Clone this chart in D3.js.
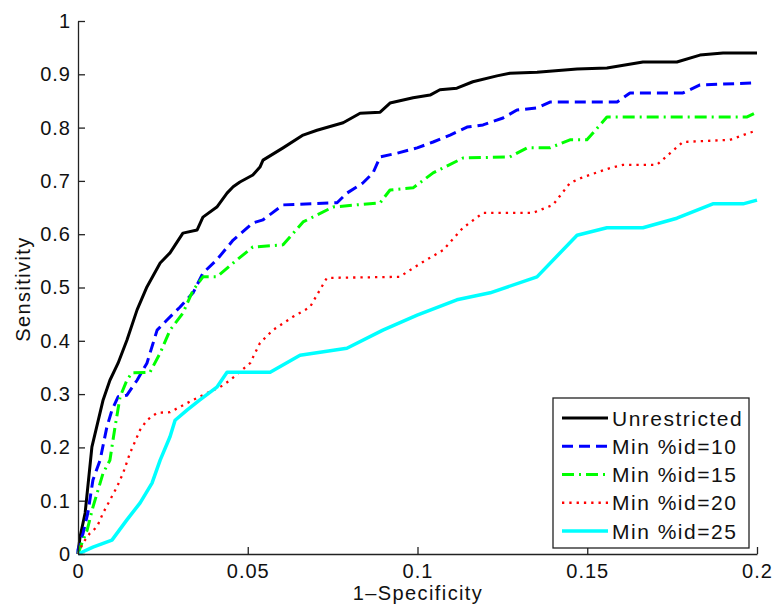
<!DOCTYPE html>
<html>
<head>
<meta charset="utf-8">
<script src="https://cdn.jsdelivr.net/npm/d3@7"></script>
<style>
  html, body { margin: 0; padding: 0; background: #fff; }
  svg { display: block; }
  text { font-family: "Liberation Sans", Arial, Helvetica, sans-serif; fill: #111; }
</style>
</head>
<body>
<svg id="chart" width="775" height="612"></svg>
<script>
// ---------- data (x = 1-Specificity, y = Sensitivity) ----------
const seriesNames = ["Unrestricted", "Min %id=10", "Min %id=15", "Min %id=20", "Min %id=25"];

const unrestricted = [
  [0,0],[0.0006,0.032],[0.0021,0.077],[0.0041,0.201],[0.0074,0.289],[0.0094,0.326],
  [0.0118,0.358],[0.0144,0.401],[0.0174,0.458],[0.0203,0.501],[0.0242,0.546],[0.0271,0.565],
  [0.0309,0.602],[0.0351,0.608],[0.0368,0.632],[0.0409,0.651],[0.0439,0.677],[0.0457,0.689],
  [0.0477,0.698],[0.0515,0.711],[0.0536,0.726],[0.0545,0.739],[0.0604,0.762],[0.0663,0.786],
  [0.0704,0.795],[0.0781,0.809],[0.0831,0.827],[0.0890,0.829],[0.0919,0.846],[0.0987,0.856],
  [0.1037,0.861],[0.1066,0.871],[0.1116,0.874],[0.1163,0.886],[0.1234,0.897],[0.1272,0.902],
  [0.1352,0.904],[0.1470,0.910],[0.1558,0.912],[0.1664,0.923],[0.1764,0.923],[0.1832,0.936],
  [0.1900,0.940],[0.2,0.940]
];

const minId10 = [
  [0,0],[0,0.008],[0.0015,0.039],[0.0029,0.077],[0.0044,0.139],[0.0065,0.176],[0.0085,0.238],
  [0.0100,0.270],[0.0118,0.295],[0.0144,0.298],[0.0174,0.326],[0.0203,0.358],[0.0233,0.420],
  [0.0262,0.439],[0.0300,0.463],[0.0339,0.490],[0.0368,0.527],[0.0409,0.552],[0.0457,0.589],
  [0.0515,0.621],[0.0545,0.627],[0.0604,0.655],[0.0763,0.659],[0.0792,0.677],[0.0839,0.696],
  [0.0869,0.715],[0.0890,0.745],[0.0940,0.752],[0.0999,0.762],[0.1046,0.773],[0.1096,0.786],
  [0.1146,0.801],[0.1193,0.805],[0.1252,0.818],[0.1293,0.833],[0.1352,0.837],[0.1390,0.848],
  [0.1588,0.848],[0.1626,0.865],[0.1782,0.865],[0.1832,0.880],[0.2,0.884]
];

const minId15 = [
  [0,0],[0.0012,0.021],[0.0027,0.045],[0.0044,0.088],[0.0059,0.120],[0.0074,0.152],
  [0.0094,0.176],[0.0100,0.201],[0.0109,0.238],[0.0124,0.295],[0.0144,0.326],[0.0159,0.340],
  [0.0212,0.341],[0.0242,0.377],[0.0271,0.420],[0.0309,0.452],[0.0339,0.495],[0.0368,0.520],
  [0.0409,0.520],[0.0457,0.546],[0.0515,0.576],[0.0604,0.580],[0.0663,0.623],[0.0751,0.651],
  [0.0890,0.659],[0.0919,0.683],[0.0987,0.687],[0.1046,0.715],[0.1134,0.743],[0.1272,0.745],
  [0.1323,0.762],[0.1390,0.762],[0.1449,0.777],[0.1499,0.777],[0.1558,0.820],[0.1971,0.820],
  [0.2,0.829]
];

const minId20 = [
  [0,0],[0.0015,0.021],[0.0035,0.039],[0.0056,0.051],[0.0074,0.077],[0.0094,0.101],
  [0.0115,0.126],[0.0133,0.152],[0.0153,0.189],[0.0183,0.233],[0.0203,0.251],[0.0233,0.265],
  [0.0271,0.266],[0.0300,0.276],[0.0339,0.289],[0.0380,0.302],[0.0418,0.313],[0.0448,0.326],
  [0.0507,0.358],[0.0536,0.396],[0.0574,0.420],[0.0633,0.445],[0.0683,0.463],[0.0733,0.518],
  [0.0948,0.520],[0.0969,0.529],[0.1016,0.548],[0.1075,0.570],[0.1134,0.612],[0.1193,0.640],
  [0.1340,0.640],[0.1399,0.655],[0.1449,0.696],[0.1487,0.707],[0.1567,0.724],[0.1605,0.730],
  [0.1705,0.730],[0.1744,0.752],[0.1782,0.773],[0.1920,0.777],[0.1959,0.786],[0.2,0.795]
];

const minId25 = [
  [0,0],[0.0044,0.013],[0.0100,0.026],[0.0144,0.064],[0.0183,0.096],[0.0218,0.133],
  [0.0242,0.176],[0.0271,0.220],[0.0286,0.251],[0.0321,0.270],[0.0359,0.289],[0.0409,0.313],
  [0.0439,0.341],[0.0566,0.341],[0.0654,0.373],[0.0792,0.386],[0.0898,0.420],[0.0999,0.448],
  [0.1116,0.477],[0.1214,0.490],[0.1352,0.520],[0.1470,0.598],[0.1558,0.612],[0.1664,0.612],
  [0.1764,0.630],[0.1870,0.657],[0.1959,0.657],[0.2,0.664]
];

const xTicks = [0, 0.05, 0.1, 0.15, 0.2];
const xTickLabels = ["0", "0.05", "0.1", "0.15", "0.2"];
const yTicks = [0, 0.1, 0.2, 0.3, 0.4, 0.5, 0.6, 0.7, 0.8, 0.9, 1];
const yTickLabels = ["0", "0.1", "0.2", "0.3", "0.4", "0.5", "0.6", "0.7", "0.8", "0.9", "1"];

// ---------- styles ----------
const styles = [
  { color: "#000000", width: 3,   dash: null },
  { color: "#0000ff", width: 3,   dash: "11,6" },
  { color: "#00ff00", width: 3,   dash: "12,5,2,5" },
  { color: "#ff0000", width: 2.3, dash: "2.3,5" },
  { color: "#00ffff", width: 3.5, dash: null }
];
const allSeries = [unrestricted, minId10, minId15, minId20, minId25];

// ---------- layout ----------
const svg = d3.select("#chart");
const x = d3.scaleLinear().domain([0, 0.2]).range([78, 757]);
const y = d3.scaleLinear().domain([0, 1]).range([554, 21]);

svg.append("defs").append("clipPath").attr("id", "plotclip")
  .append("rect").attr("x", 76).attr("y", 15).attr("width", 684).attr("height", 542);

// lines
const line = d3.line().x(d => x(d[0])).y(d => y(d[1]));
const plot = svg.append("g").attr("clip-path", "url(#plotclip)");
allSeries.forEach((s, i) => {
  plot.append("path")
    .datum(s)
    .attr("d", line)
    .attr("fill", "none")
    .attr("stroke", styles[i].color)
    .attr("stroke-width", styles[i].width)
    .attr("stroke-linejoin", "round")
    .attr("stroke-dasharray", styles[i].dash);
});

// axes
const xAxis = d3.axisBottom(x)
  .tickValues(xTicks)
  .tickFormat((d, i) => xTickLabels[i])
  .tickSizeInner(-7).tickSizeOuter(0).tickPadding(10);
const yAxis = d3.axisLeft(y)
  .tickValues(yTicks)
  .tickFormat((d, i) => yTickLabels[i])
  .tickSizeInner(-7).tickSizeOuter(0).tickPadding(7);

const gx = svg.append("g").attr("transform", "translate(0,554)").call(xAxis);
const gy = svg.append("g").attr("transform", "translate(78,0)").call(yAxis);
[gx, gy].forEach(g => {
  g.select(".domain").attr("stroke", "#222").attr("stroke-width", 1.3);
  g.selectAll(".tick line").attr("stroke", "#222").attr("stroke-width", 1.3);
  g.selectAll(".tick text")
    .attr("fill", "#111")
    .style("font-family", "'Liberation Sans', Arial, Helvetica, sans-serif")
    .style("font-size", "20px")
    .style("letter-spacing", "1px");
});

// axis titles
svg.append("text")
  .attr("x", 418).attr("y", 600)
  .attr("text-anchor", "middle")
  .style("font-size", "20px").style("letter-spacing", "1.4px")
  .text("1–Specificity");
svg.append("text")
  .attr("transform", "translate(30,289) rotate(-90)")
  .attr("text-anchor", "middle")
  .style("font-size", "20px").style("letter-spacing", "1.4px")
  .text("Sensitivity");

// legend
const lg = svg.append("g");
lg.append("rect")
  .attr("x", 553).attr("y", 398).attr("width", 196).attr("height", 150)
  .attr("fill", "#fff").attr("stroke", "#222").attr("stroke-width", 1.3);
seriesNames.forEach((name, i) => {
  const cy = 418 + i * 28.25;
  lg.append("line")
    .attr("x1", 562).attr("x2", 608).attr("y1", cy).attr("y2", cy)
    .attr("stroke", styles[i].color)
    .attr("stroke-width", styles[i].width)
    .attr("stroke-dasharray", styles[i].dash);
  lg.append("text")
    .attr("x", 612).attr("y", cy).attr("dy", "0.36em")
    .style("font-size", "21px").style("letter-spacing", "1.5px")
    .text(name);
});
</script>
</body>
</html>
